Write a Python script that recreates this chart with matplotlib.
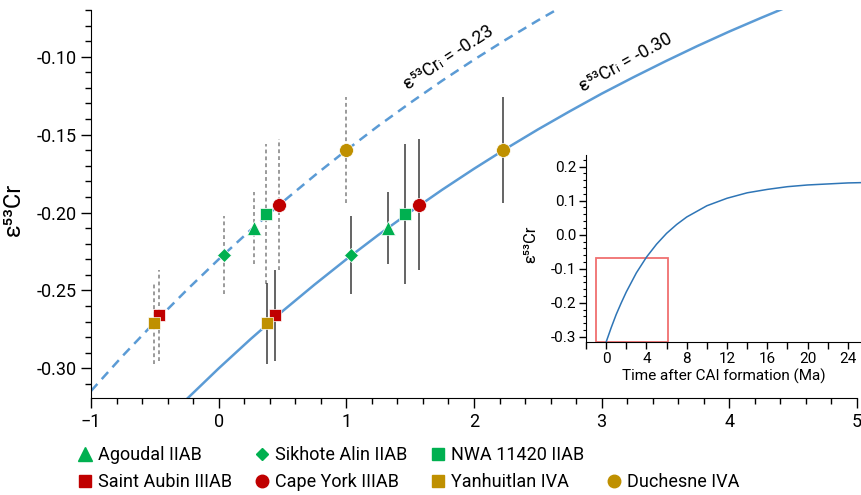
import numpy as np
import matplotlib
matplotlib.use('Agg')
from matplotlib import pyplot as plt
from matplotlib.lines import Line2D
from matplotlib.patches import Rectangle
from matplotlib.ticker import MultipleLocator, FormatStrFormatter

plt.rcParams['font.family'] = ['Roboto', 'DejaVu Sans']

# samples
names = ['Agoudal IIAB', 'Sikhote Alin IIAB', 'NWA 11420 IIAB', 'Saint Aubin IIIAB',
         'Cape York IIIAB', 'Yanhuitlan IVA', 'Duchesne IVA']
eps = [-0.210, -0.227, -0.201, -0.266, -0.195, -0.271, -0.160]
err = [0.023, 0.025, 0.045, 0.029, 0.042, 0.026, 0.034]
age_023 = [0.28, 0.04, 0.37, -0.47, 0.47, -0.51, 1.00]   # eps53Cr_i = -0.23
age_030 = [1.33, 1.04, 1.46, 0.44, 1.57, 0.38, 2.23]     # eps53Cr_i = -0.30
markers = ['^', 'D', 's', 's', 'o', 's', 'o']
msizes = [10.5, 7, 9, 9, 10, 9, 10]
green, red, gold = '#00b050', '#c00000', '#bf9000'
colors = [green, green, green, red, red, gold, gold]

# evolution curves
curve_t = [-1.0, -0.75, -0.5, -0.25, 0.0, 0.25, 0.5, 0.75, 1.0, 1.25, 1.5, 1.75, 2.0,
           2.25, 2.5, 2.75, 3.0, 3.25, 3.5, 3.75, 4.0, 4.25, 4.5, 4.75, 5.0]
curve_030 = [-0.3845, -0.3618, -0.3403, -0.3197, -0.3000, -0.2812, -0.2633, -0.2463,
             -0.2300, -0.2144, -0.1996, -0.1854, -0.1719, -0.1590, -0.1467, -0.1350,
             -0.1237, -0.1131, -0.1029, -0.0931, -0.0838, -0.0750, -0.0665, -0.0584,
             -0.0507]
curve_023 = [-0.3145, -0.2918, -0.2703, -0.2497, -0.2300, -0.2112, -0.1933, -0.1763,
             -0.1600, -0.1444, -0.1296, -0.1154, -0.1019, -0.0890, -0.0767, -0.0650,
             -0.0537, -0.0431, -0.0329, -0.0231, -0.0138, -0.0050, 0.0035, 0.0116,
             0.0193]

inset_t = [0, 0.5, 1, 1.5, 2, 3, 4, 5, 6, 7, 8, 10, 12, 14, 16, 18, 20, 22, 24, 25.5]
inset_eps = [-0.315, -0.273, -0.234, -0.200, -0.168, -0.112, -0.066, -0.028, 0.004,
             0.030, 0.052, 0.085, 0.107, 0.123, 0.133, 0.141, 0.146, 0.149, 0.152, 0.153]

blue = '#5b9bd5'

def main():
  fig = plt.figure(figsize=(8.61, 4.95), dpi=100)
  ax = fig.add_axes([91/861, 1-398/495, 766/861, 388/495])

  ax.plot(curve_t, curve_030, color=blue, lw=1.8, zorder=1)
  ax.plot(curve_t, curve_023, color=blue, lw=1.8, ls=(0, (3.8, 2.6)), zorder=1)

  lo = np.array(eps) - np.array(err)
  hi = np.array(eps) + np.array(err)
  ax.vlines(age_023, lo, hi, colors='#808080', lw=1.1, linestyles=(0, (2.5, 2)), zorder=2)
  ax.vlines(age_030, lo, hi, colors='#3a3a3a', lw=1.1, zorder=2)

  handles = []
  for i in range(len(names)):
    for ages in (age_023, age_030):
      ax.plot(ages[i], eps[i], marker=markers[i], ms=msizes[i], color=colors[i],
              mec='white', mew=0.5, ls='none', zorder=3)
    handles.append(Line2D([], [], marker=markers[i], ms=msizes[i]*0.9, color=colors[i],
                          ls='none'))

  ax.text(1.80, -0.1006, 'ε⁵³Crᵢ = -0.23', rotation=33, ha='center', va='center', fontsize=13)
  ax.text(3.19, -0.1038, 'ε⁵³Crᵢ = -0.30', rotation=29, ha='center', va='center', fontsize=13)

  ax.set_xlim(-1, 5)
  ax.set_ylim(-0.319, -0.07)
  ax.xaxis.set_major_locator(MultipleLocator(1))
  ax.xaxis.set_minor_locator(MultipleLocator(0.2))
  ax.yaxis.set_major_locator(MultipleLocator(0.05))
  ax.yaxis.set_minor_locator(MultipleLocator(0.01))
  ax.yaxis.set_major_formatter(FormatStrFormatter('%.2f'))
  ax.tick_params(which='major', length=7, width=1, labelsize=13)
  ax.tick_params(which='minor', length=4, width=1)
  for s in ('top', 'right'):
    ax.spines[s].set_visible(False)
  ax.set_ylabel('ε⁵³Cr', fontsize=17)
  ax.yaxis.set_label_coords(-0.086, 0.485)

  # legend, blank slot at top of last column
  blank = Line2D([], [], ls='none')
  order = [0, 3, 1, 4, 2, 5, None, 6]
  lh = [handles[k] if k is not None else blank for k in order]
  ll = [names[k] if k is not None else '' for k in order]
  fig.legend(lh, ll, loc='upper left', bbox_to_anchor=(76/861, 1-446/495), ncol=4,
             frameon=False, fontsize=13, borderpad=0, borderaxespad=0,
             handlelength=1.0, handletextpad=0.2, columnspacing=1.2, labelspacing=0.5)

  # inset
  ins = fig.add_axes([586/861, 1-342/495, 275/861, 187/495])
  ins.plot(inset_t, inset_eps, color='#2e75b6', lw=1.1)
  ins.add_patch(Rectangle((-1.0, -0.315), 7.1, 0.248, fill=False, ec='#f07070', lw=1.3))
  ins.set_xlim(-2, 25.3)
  ins.set_ylim(-0.315, 0.234)
  ins.xaxis.set_major_locator(MultipleLocator(4))
  ins.xaxis.set_minor_locator(MultipleLocator(2))
  ins.yaxis.set_major_locator(MultipleLocator(0.1))
  ins.yaxis.set_minor_locator(MultipleLocator(0.02))
  ins.yaxis.set_major_formatter(FormatStrFormatter('%.1f'))
  ins.tick_params(which='major', length=5, width=1, labelsize=11, pad=2)
  ins.tick_params(axis='x', which='minor', length=5, width=1)
  ins.tick_params(axis='y', which='minor', length=2.5, width=0.8)
  for s in ('top', 'right'):
    ins.spines[s].set_visible(False)
  ins.patch.set_alpha(0)
  ins.set_xlabel('Time after CAI formation (Ma)', fontsize=11, labelpad=2)
  ins.set_ylabel('ε⁵³Cr', fontsize=12)
  ins.yaxis.set_label_coords(-0.175, 0.524)

  fig.savefig('out.png', dpi=100)

if __name__ == '__main__':
  main()
